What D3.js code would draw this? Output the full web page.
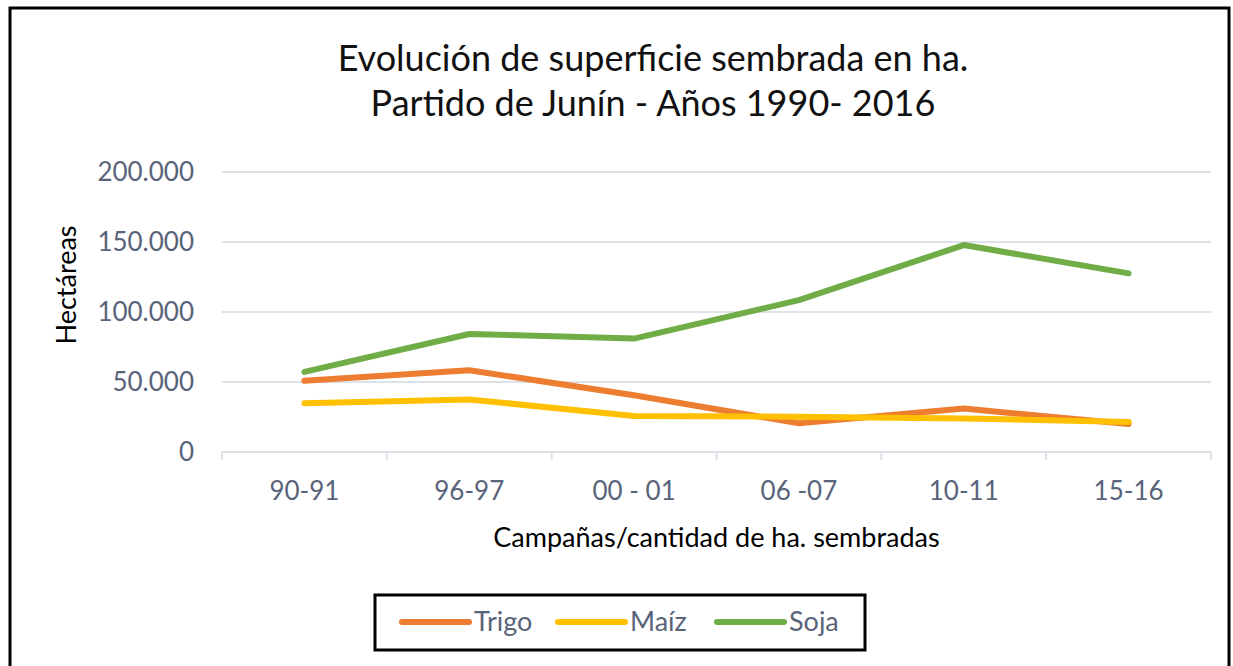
<!DOCTYPE html>
<html>
<head>
<meta charset="utf-8">
<script src="https://cdn.jsdelivr.net/npm/d3@7"></script>
<style>
  body { margin: 0; background: #fff; }
  text { font-family: Lato, "Open Sans", sans-serif; }
</style>
</head>
<body>
<div id="main"></div>
<script>
// datos
const campanas = ['90-91', '96-97', '00 - 01', '06 -07', '10-11', '15-16'];
const trigo = [50900, 58400, 40500, 20500, 31000, 20000];
const maiz = [34800, 37500, 25700, 25200, 24000, 21500];
const soja = [57200, 84300, 81000, 108500, 147800, 127600];
const yTicks = [0, 50000, 100000, 150000, 200000];
const seriesNames = ['Trigo', 'Maíz', 'Soja'];
const seriesColors = ['#ED7D31', '#FFC000', '#70AD47'];

class Grafico {
  constructor(config) {
    this.config = config;
    this.svg = null;
    this.margins = null;
    this.xScale = null;
    this.yScale = null;
    this.series = [];

    this.buildSeries();
    this.createSvg();
    this.createMargins();
  }

  buildSeries() {
    const valores = [trigo, maiz, soja];
    this.series = seriesNames.map((n, i) => ({
      name: n,
      color: seriesColors[i],
      values: valores[i].map((v, j) => ({ c: campanas[j], v: v }))
    }));
  }

  createSvg() {
    this.svg = d3.select(this.config.div)
      .append('svg')
      .attr('width', this.config.W)
      .attr('height', this.config.H);

    // marco negro
    this.svg.append('rect')
      .attr('x', 10).attr('y', 8)
      .attr('width', 1219).attr('height', 680)
      .attr('fill', 'none')
      .attr('stroke', '#000')
      .attr('stroke-width', 3);
  }

  createMargins() {
    this.margins = this.svg
      .append('g')
      .attr('transform', `translate(${this.config.left},${this.config.top})`);
  }

  createScales() {
    this.xScale = d3.scaleBand().domain(campanas).range([0, this.config.width]);
    this.yScale = d3.scaleLinear().domain([0, 200000]).range([this.config.height, 0]);
  }

  createAxis() {
    const loc = d3.formatLocale({ decimal: ',', thousands: '.', grouping: [3], currency: ['$', ''] });
    const fmt = loc.format(',');

    // lineas de grilla
    this.margins.append('g')
      .selectAll('line')
      .data(yTicks.filter(d => d > 0))
      .join('line')
      .attr('x1', 0).attr('x2', this.config.width)
      .attr('y1', d => this.yScale(d)).attr('y2', d => this.yScale(d))
      .attr('stroke', '#dde1e8')
      .attr('stroke-width', 2);

    let yAxis = d3.axisLeft(this.yScale)
      .tickValues(yTicks)
      .tickFormat(fmt)
      .tickSize(0)
      .tickPadding(28);

    let yG = this.margins.append('g').call(yAxis);
    yG.select('.domain').remove();
    yG.selectAll('text')
      .attr('fill', '#59647a')
      .style('font-size', '26px');

    // eje x
    const h = this.config.height;
    this.margins.append('line')
      .attr('x1', 0).attr('x2', this.config.width)
      .attr('y1', h).attr('y2', h)
      .attr('stroke', '#dde1e8').attr('stroke-width', 2);

    const bordes = campanas.map(c => this.xScale(c)).concat([this.config.width]);
    this.margins.append('g')
      .selectAll('line')
      .data(bordes)
      .join('line')
      .attr('x1', d => d).attr('x2', d => d)
      .attr('y1', h).attr('y2', h + 8)
      .attr('stroke', '#dde1e8').attr('stroke-width', 2);

    this.margins.append('g')
      .selectAll('text')
      .data(campanas)
      .join('text')
      .attr('x', d => this.xScale(d) + this.xScale.bandwidth() / 2)
      .attr('y', h + 48)
      .attr('text-anchor', 'middle')
      .attr('fill', '#59647a')
      .style('font-size', '26px')
      .text(d => d);

    // titulos de ejes
    this.margins.append('text')
      .attr('x', this.config.width / 2)
      .attr('y', h + 95)
      .attr('text-anchor', 'middle')
      .attr('fill', '#000')
      .style('font-size', '27px')
      .text('Campañas/cantidad de ha. sembradas');

    this.svg.append('text')
      .attr('transform', 'translate(76,285) rotate(-90)')
      .attr('text-anchor', 'middle')
      .attr('fill', '#000')
      .style('font-size', '27px')
      .text('Hectáreas');
  }

  createTitle() {
    const t = this.svg.append('text')
      .attr('text-anchor', 'middle')
      .attr('fill', '#111')
      .style('font-size', '36px');
    t.append('tspan').attr('x', 653).attr('y', 71).text('Evolución de superficie sembrada en ha.');
    t.append('tspan').attr('x', 653).attr('y', 116).text('Partido de  Junín - Años 1990- 2016');
  }

  createLines() {
    const line = d3.line()
      .x(d => this.xScale(d.c) + this.xScale.bandwidth() / 2)
      .y(d => this.yScale(d.v));

    this.margins.selectAll('path.serie')
      .data(this.series)
      .join('path')
      .attr('class', 'serie')
      .attr('d', d => line(d.values))
      .attr('fill', 'none')
      .attr('stroke', d => d.color)
      .attr('stroke-width', 6)
      .attr('stroke-linecap', 'round')
      .attr('stroke-linejoin', 'round');
  }

  createLegend() {
    const lg = this.svg.append('g');
    lg.append('rect')
      .attr('x', 375).attr('y', 595)
      .attr('width', 490).attr('height', 55)
      .attr('fill', '#fff')
      .attr('stroke', '#000')
      .attr('stroke-width', 3);

    const xs = [402, 558, 717];
    const items = lg.selectAll('g.item')
      .data(this.series)
      .join('g')
      .attr('class', 'item')
      .attr('transform', (d, i) => `translate(${xs[i]},622)`);

    items.append('line')
      .attr('x1', 0).attr('x2', 67)
      .attr('y1', 0).attr('y2', 0)
      .attr('stroke', d => d.color)
      .attr('stroke-width', 6)
      .attr('stroke-linecap', 'round');

    items.append('text')
      .attr('x', 72).attr('y', 9)
      .attr('fill', '#59647a')
      .style('font-size', '27px')
      .text(d => d.name);
  }
}

function main() {
  let c = { div: '#main', W: 1233, H: 666, width: 989, height: 280, top: 172, left: 222 };
  let g = new Grafico(c);
  g.createScales();
  g.createAxis();
  g.createLines();
  g.createTitle();
  g.createLegend();
}

main();
</script>
</body>
</html>
